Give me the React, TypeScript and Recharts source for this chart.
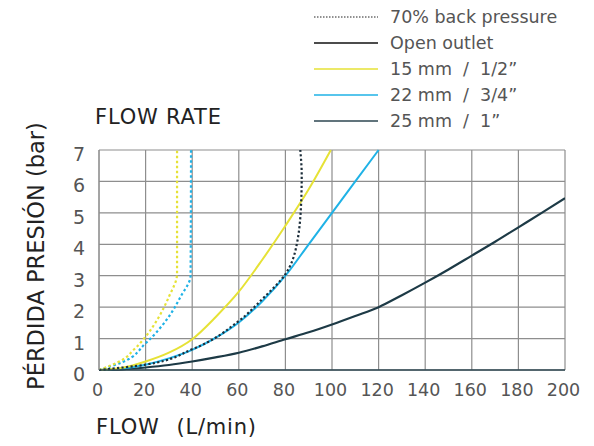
import React from 'react';
import { LineChart, Line, XAxis, YAxis, CartesianGrid, Label } from 'recharts';

// flow (L/min) vs pressure loss (bar)
const xTicks = [0, 20, 40, 60, 80, 100, 120, 140, 160, 180, 200];
const yTicks = [0, 1, 2, 3, 4, 5, 6, 7];

const pipe15 = [
  { x: 0, y: 0 }, { x: 10, y: 0.07 }, { x: 20, y: 0.27 }, { x: 30, y: 0.55 },
  { x: 40, y: 0.98 }, { x: 50, y: 1.68 }, { x: 60, y: 2.49 }, { x: 70, y: 3.5 },
  { x: 80, y: 4.59 }, { x: 90, y: 5.75 }, { x: 99.5, y: 7 },
];
const pipe22 = [
  { x: 0, y: 0 }, { x: 10, y: 0.05 }, { x: 20, y: 0.17 }, { x: 30, y: 0.37 },
  { x: 40, y: 0.64 }, { x: 50, y: 1.02 }, { x: 60, y: 1.51 }, { x: 70, y: 2.18 },
  { x: 80, y: 3.0 }, { x: 90, y: 4.0 }, { x: 100, y: 5.0 }, { x: 110, y: 6.0 }, { x: 120, y: 7.0 },
];
const pipe25 = [
  { x: 0, y: 0 }, { x: 10, y: 0.02 }, { x: 20, y: 0.08 }, { x: 30, y: 0.16 },
  { x: 40, y: 0.27 }, { x: 50, y: 0.4 }, { x: 60, y: 0.55 }, { x: 70, y: 0.75 },
  { x: 80, y: 0.98 }, { x: 90, y: 1.2 }, { x: 100, y: 1.45 }, { x: 110, y: 1.72 },
  { x: 120, y: 2.0 }, { x: 130, y: 2.38 }, { x: 140, y: 2.78 }, { x: 150, y: 3.2 },
  { x: 160, y: 3.64 }, { x: 170, y: 4.08 }, { x: 180, y: 4.54 }, { x: 190, y: 5.0 }, { x: 200, y: 5.47 },
];
const back15 = [
  { x: 0, y: 0 }, { x: 10, y: 0.32 }, { x: 15, y: 0.65 }, { x: 20, y: 1.06 },
  { x: 25, y: 1.6 }, { x: 30, y: 2.33 }, { x: 33.5, y: 3.05 }, { x: 33.5, y: 7 },
];
const back22 = [
  { x: 0, y: 0 }, { x: 10, y: 0.25 }, { x: 20, y: 0.85 }, { x: 30, y: 1.7 },
  { x: 35, y: 2.33 }, { x: 39.3, y: 3.0 }, { x: 39.5, y: 7 },
];
const backOpen = [
  { x: 0, y: 0 }, { x: 20, y: 0.17 }, { x: 40, y: 0.66 }, { x: 60, y: 1.56 },
  { x: 70, y: 2.25 }, { x: 80, y: 3.05 }, { x: 84.7, y: 3.93 }, { x: 86.8, y: 5.4 },
  { x: 87, y: 6.2 }, { x: 86.4, y: 7 },
];

const legendItems = [
  { label: '70% back pressure', color: '#222', dash: '1.5 1.5', width: 1 },
  { label: 'Open outlet', color: '#111', dash: undefined, width: 1.5 },
  { label: '15 mm  /  1/2”', color: '#e6e236', dash: undefined, width: 1.5 },
  { label: '22 mm  /  3/4”', color: '#1fb2e6', dash: undefined, width: 1.5 },
  { label: '25 mm  /  1”', color: '#2c4650', dash: undefined, width: 1.5 },
];

const font = '"DejaVu Sans", sans-serif';
const textColor = '#555';

const ChartLegend = () => (
  <div style={{ position: 'absolute', left: 314, top: 4, fontFamily: font, fontSize: 17.5, color: textColor }}>
    {legendItems.map((it) => (
      <div key={it.label} style={{ display: 'flex', alignItems: 'center', height: 26 }}>
        <svg width={64} height={10} style={{ marginRight: 12 }}>
          <line x1={0} y1={5} x2={64} y2={5} stroke={it.color}
            strokeWidth={it.width} strokeDasharray={it.dash} />
        </svg>
        <span style={{ whiteSpace: 'pre' }}>{it.label}</span>
      </div>
    ))}
  </div>
);

// y tick labels sit a bit below their gridline in the original
const YTick = ({ x, y, payload }: any) => (
  <text x={x} y={y} dy={4} textAnchor="end" dominantBaseline="central"
    fill={textColor} fontSize={19} fontFamily={font}>
    {payload.value}
  </text>
);

const XTick = ({ x, y, payload }: any) => (
  <text x={x} y={y} dx={-1.5} textAnchor="middle" dominantBaseline="hanging"
    fill={textColor} fontSize={17.5} fontFamily={font}>
    {payload.value}
  </text>
);

export default function App() {
  return (
    <div style={{ position: 'absolute', left: 0, top: 0, width: 594, height: 446 }}>
      <ChartLegend />
      <div style={{ position: 'absolute', left: 95, top: 105, fontFamily: font, fontSize: 21, color: '#222', letterSpacing: 0.8 }}>
        FLOW RATE
      </div>
      <div style={{ position: 'absolute', left: 96, top: 415, fontFamily: font, fontSize: 21, color: '#222', whiteSpace: 'pre', letterSpacing: 0.8, wordSpacing: 1 }}>
        FLOW  (L/min)
      </div>
      <LineChart width={594} height={446} margin={{ top: 150, right: 29, left: 0, bottom: 46 }}>
        <CartesianGrid stroke="#8e8e8e" strokeWidth={1.2} />
        <XAxis type="number" dataKey="x" domain={[0, 200]} ticks={xTicks} interval={0}
          tickLine={false} axisLine={{ stroke: '#2c4650', strokeWidth: 1.5 }} height={30}
          tick={<XTick />} tickMargin={7} allowDataOverflow />
        <YAxis type="number" dataKey="y" domain={[0, 7]} ticks={yTicks} interval={0} width={99}
          tickLine={false} axisLine={{ stroke: '#8e8e8e' }}
          tick={<YTick />} tickMargin={8}>
          <Label
            content={() => (
              <text x={36} y={256} textAnchor="middle" transform="rotate(-90 36 256)"
                fill="#222" fontSize={22.5} fontFamily={font} dominantBaseline="central">
                PÉRDIDA PRESIÓN (bar)
              </text>
            )}
          />
        </YAxis>
        <Line data={pipe25} dataKey="y" type="monotone" stroke="#1d3a46" strokeWidth={2.2} dot={false} isAnimationActive={false} />
        <Line data={pipe22} dataKey="y" type="monotone" stroke="#1fb2e6" strokeWidth={2} dot={false} isAnimationActive={false} />
        <Line data={pipe15} dataKey="y" type="monotone" stroke="#e6e236" strokeWidth={2} dot={false} isAnimationActive={false} />
        <Line data={back22} dataKey="y" type="monotoneY" stroke="#1fb2e6" strokeWidth={2.2} strokeDasharray="2.5 2.5" dot={false} isAnimationActive={false} />
        <Line data={back15} dataKey="y" type="monotoneY" stroke="#e6e236" strokeWidth={2.2} strokeDasharray="2.5 2.5" dot={false} isAnimationActive={false} />
        <Line data={backOpen} dataKey="y" type="monotoneY" stroke="#1d2e3a" strokeWidth={2.2} strokeDasharray="2.2 2.3" dot={false} isAnimationActive={false} />
      </LineChart>
    </div>
  );
}
